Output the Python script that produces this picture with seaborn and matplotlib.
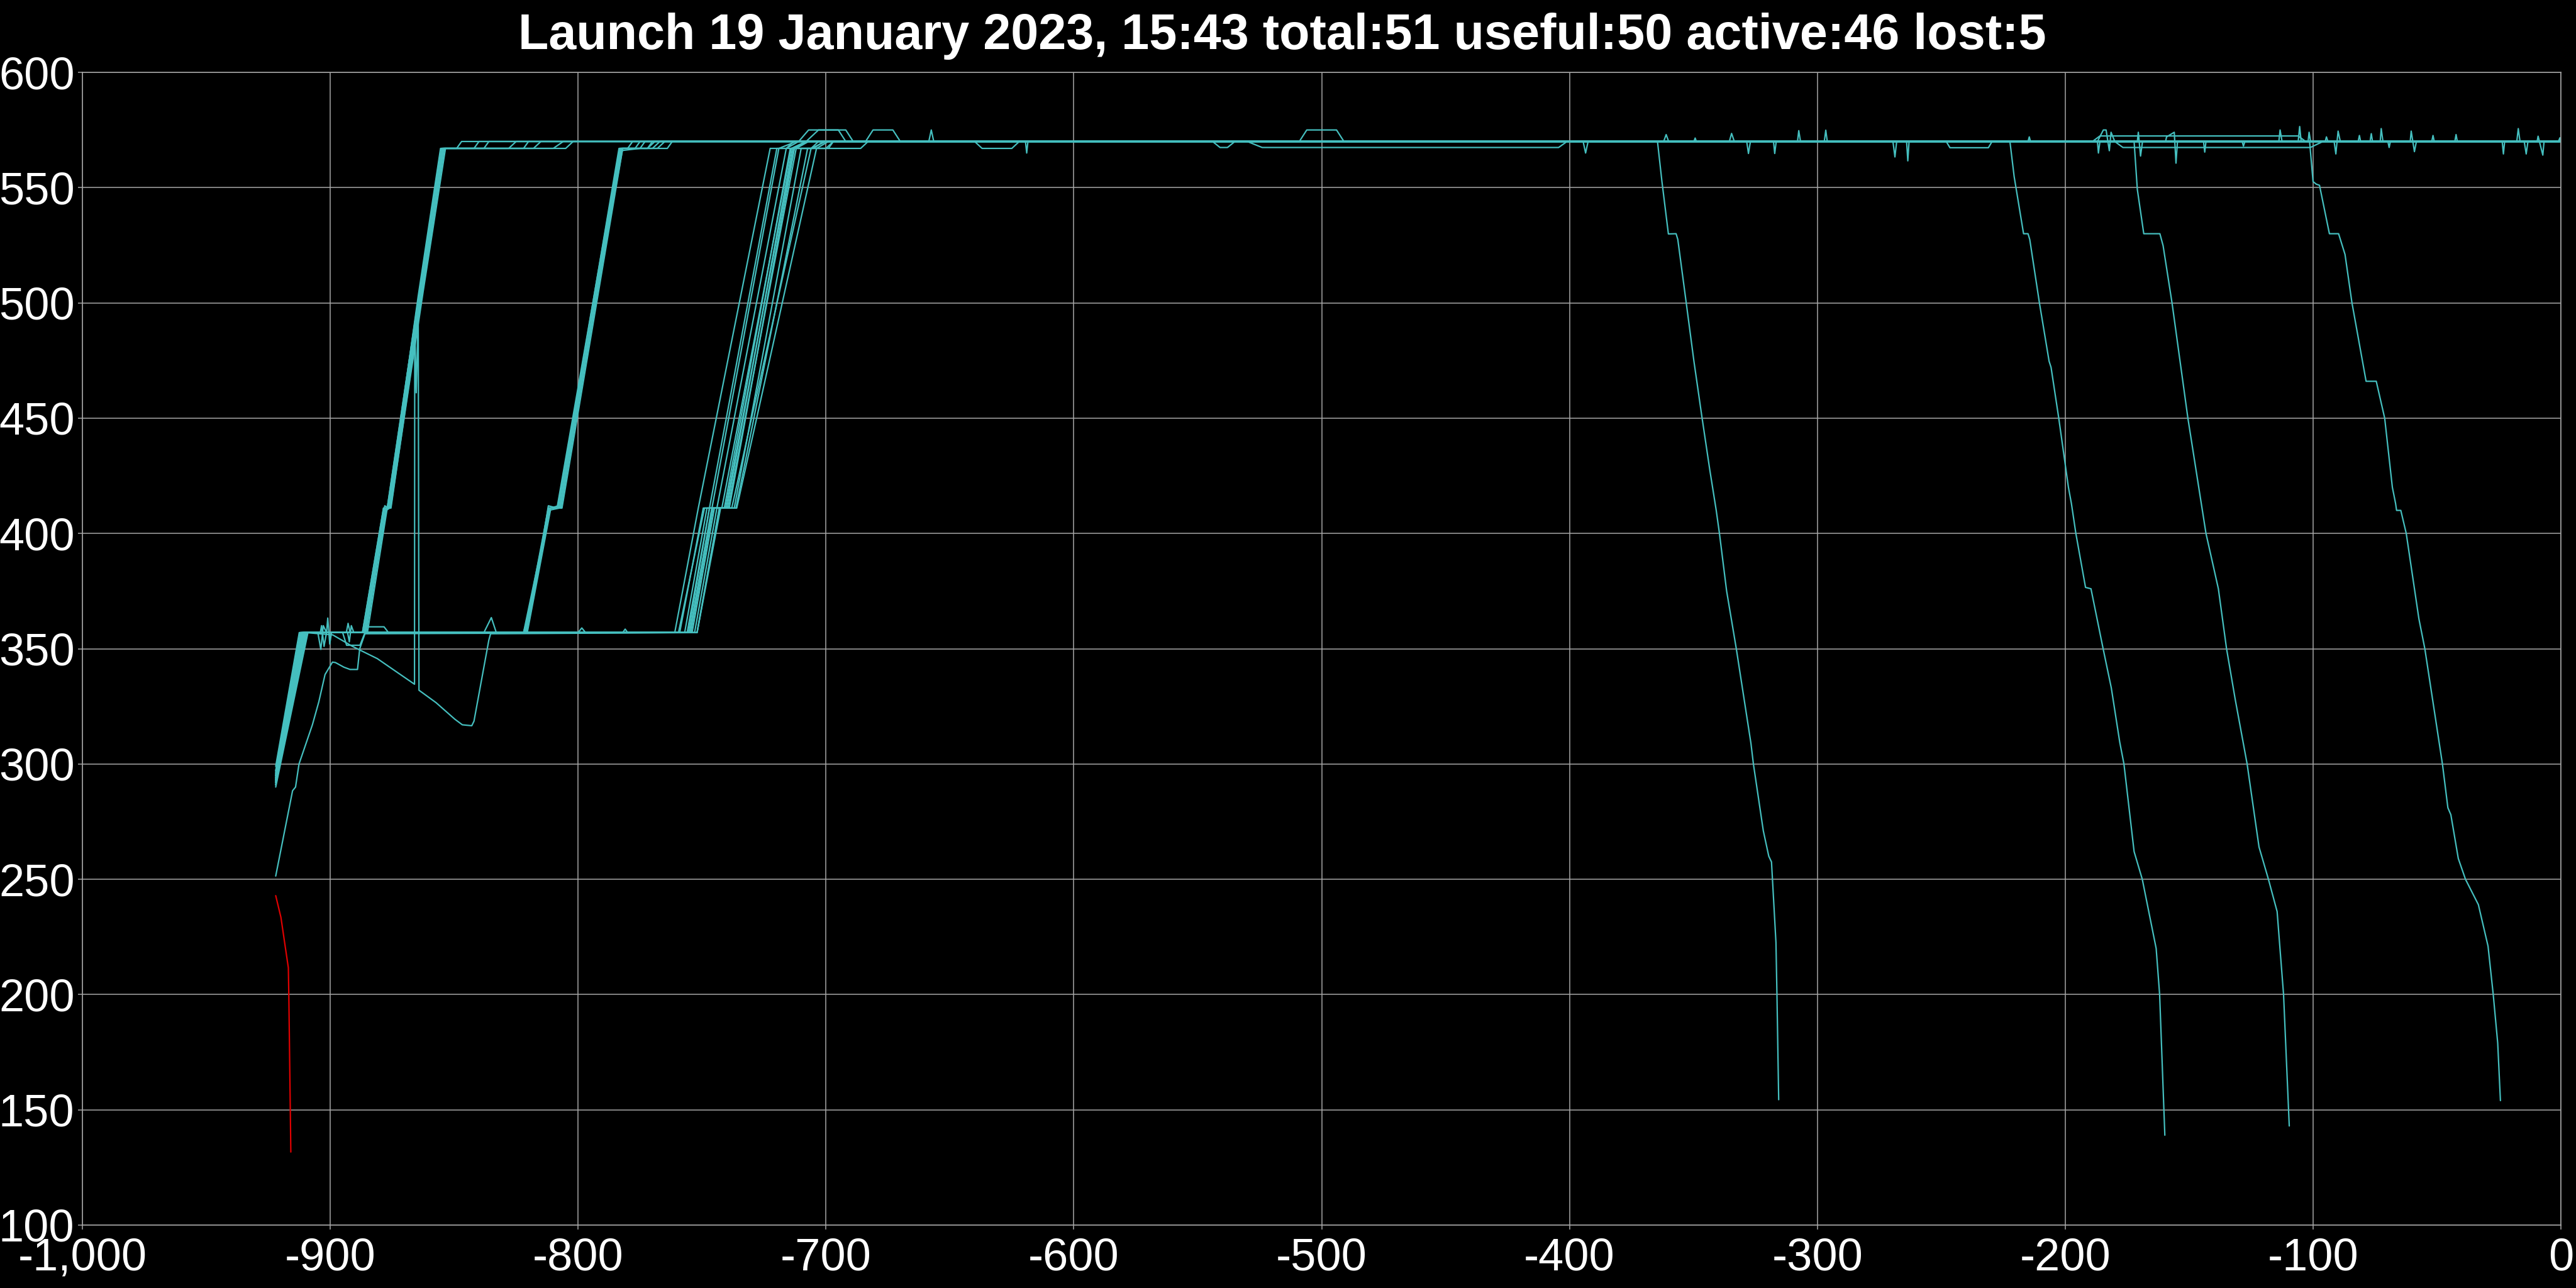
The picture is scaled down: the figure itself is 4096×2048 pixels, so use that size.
import numpy as np
import matplotlib
matplotlib.use('Agg')
import matplotlib.pyplot as plt
from matplotlib.ticker import FuncFormatter
import seaborn as sns
import pandas as pd

title = 'Launch 19 January 2023, 15:43 total:51 useful:50 active:46 lost:5'
x_ticks = list(range(-1000, 1, 100))
y_ticks = list(range(100, 601, 50))

# first raise group
grp_a = [
    [(-922, 293), (-910, 357), (-887, 357), (-878.5, 411), (-877, 411), (-864, 505), (-855, 567), (-849, 567), (-847, 570), (0, 570)],
    [(-922, 295), (-911, 357), (-905, 357), (-903.8, 349.7), (-902.8, 360), (-901.5, 357), (-901, 363.3), (-900.2, 352), (-899.5, 357),
     (-886.5, 357), (-878, 411), (-876.5, 411), (-863.5, 505), (-854.5, 567), (-838, 567), (-836, 570), (0, 570)],
    [(-922, 291), (-909.5, 357), (-886, 357), (-877.5, 410), (-876, 411), (-863, 506), (-854, 567), (-828, 567), (-825, 570), (0, 570)],
    [(-922, 297), (-912, 357), (-904, 357), (-903.5, 360), (-902.5, 351), (-901.5, 357), (-893.5, 357), (-892.8, 361), (-892, 357),
     (-886, 357), (-878, 412), (-876.5, 411), (-864.5, 503), (-855.5, 567), (-818, 567), (-815, 570), (0, 570)],
    [(-922, 293), (-910, 357), (-885.5, 357), (-877.5, 411), (-875.5, 411), (-863, 504), (-854, 567), (-810, 567), (-806, 570), (0, 570)],
    [(-922, 290), (-909, 357), (-885, 357), (-877, 411), (-875.5, 412), (-862.5, 505), (-853.5, 567), (-842, 567), (-840, 570), (0, 570)],
    [(-922, 299), (-912.5, 357), (-887, 357), (-878.5, 411), (-877, 411), (-864, 505), (-855, 567), (-805, 567), (-802, 570), (0, 570)],
]

# second raise group
grp_b = [
    [(-922, 293), (-910, 357), (-822, 357), (-819, 369), (-812, 411), (-808, 411), (-783.5, 567), (-777, 567), (-775, 570),
     (-544, 570), (-541, 567.4), (-538, 567.4), (-535, 570), (0, 570)],
    [(-922, 295), (-911, 357), (-821.5, 357), (-812, 411), (-807.5, 411), (-783, 567), (-772, 567), (-770, 570),
     (-530, 570), (-524, 567.4), (-404.4, 567.4), (-401, 570), (0, 570)],
    [(-922, 291), (-909.5, 357), (-895, 357), (-893.4, 351.5), (-888, 351.5), (-886, 357), (-821, 357), (-811.5, 411), (-807, 411),
     (-782.5, 567), (-768, 567), (-765, 570), (-509, 570), (-506, 575), (-494, 575), (-491, 570), (0, 570)],
    [(-922, 296), (-911.5, 357), (-887, 357), (-885.5, 359.5), (-878.3, 359.5), (-876.5, 357), (-820.5, 357), (-811, 411), (-808, 412),
     (-782, 567), (-780, 567), (-778, 570), (0, 570)],
    [(-922, 292), (-910, 357), (-893, 357), (-892.3, 353), (-891.5, 360), (-890.5, 357), (-821, 357), (-812, 410), (-807.5, 411),
     (-783, 566), (-775, 567), (-773, 570), (0, 570)],
    [(-922, 294), (-910.5, 357), (-822, 357), (-811.5, 411), (-806.5, 411), (-782, 567), (-770, 567), (-767, 570), (0, 570)],
    [(-922, 293), (-910, 357), (-821.5, 357), (-818, 372), (-812, 412), (-808.5, 411), (-783.2, 567), (-764, 567), (-762, 570), (0, 570)],
]

# third raise group
grp_c = [
    [(-922, 293), (-910, 357), (-761, 357), (-751.5, 411), (-722.5, 567), (-716, 567), (-713, 570), (-658.5, 570), (-657.5, 575),
     (-656.5, 570), (-394.5, 570), (-393.5, 565), (-392.5, 570), (-335.5, 570), (-334.6, 573.5), (-333.5, 570), (-187, 570),
     (-184.6, 575), (-183.5, 575), (-182.2, 566), (-181.5, 574), (-180, 570), (-113.8, 570), (-113.3, 575), (-112.5, 570),
     (-60.8, 570), (-60.4, 574.5), (-59.1, 565.6), (-58.3, 570), (0, 570)],
    [(-922, 295), (-911, 357), (-759, 357), (-749.5, 411), (-747, 411), (-719.8, 567), (-706, 567), (-703, 570), (-328.5, 570),
     (-327.8, 564.8), (-327, 570), (-308, 570), (-307.5, 574.7), (-306.8, 570), (-189, 570), (-186, 572.4), (-106, 572.4),
     (-103, 570), (-17.8, 570), (-17.2, 575.6), (-16.5, 570), (0, 570)],
    [(-922, 291), (-909.5, 357), (-838, 357), (-835, 363.5), (-833, 357), (-757, 357), (-748, 411), (-744, 411), (-716, 567),
     (-711, 570), (-707, 575), (-692, 575), (-689, 570), (0, 570)],
    [(-922, 296), (-911.5, 357), (-800, 357), (-798.5, 359), (-797, 357), (-755.5, 357), (-747, 411), (-741, 411), (-714.4, 567),
     (-700, 567), (-697, 570), (-362, 570), (-361, 573), (-360, 570), (-269.5, 570), (-268.7, 563.3), (-268, 570), (-180, 570),
     (-176.7, 567.4), (-101.1, 567.4), (-96, 570), (-91.5, 570), (-90.8, 564.6), (-89.9, 574.5), (-89, 570), (-14.8, 570),
     (-14, 564.6), (-13.3, 570), (0, 570)],
    [(-922, 292), (-910, 357), (-755, 357), (-746, 411), (-740, 411), (-713.5, 567), (-708, 570), (-684, 570), (-681, 575),
     (-673, 575), (-670, 570), (0, 570)],
    [(-922, 294), (-910.5, 357), (-754, 357), (-745, 411), (-739, 411), (-712.7, 567), (-708, 570), (-703, 575), (-695, 575),
     (-692, 570), (-619.5, 570), (-619, 565), (-618.5, 570), (-349.8, 570), (-349.3, 571.5), (-348.8, 570), (-297.2, 570),
     (-296.6, 574.9), (-296, 570), (-248, 570), (-246.5, 567.3), (-231, 567.3), (-229.5, 570), (-215, 570), (-214.5, 572),
     (-214, 570), (-170.9, 570), (-170.5, 574), (-169.6, 563.7), (-168.8, 570), (-72.9, 570), (-72.5, 575.6), (-71.8, 570),
     (-23.7, 570), (-23.2, 564.6), (-22.7, 570), (0, 570)],
    [(-922, 293), (-910, 357), (-782, 357), (-781, 358.5), (-780, 357), (-753, 357), (-744, 411), (-737, 411), (-710, 567),
     (-699, 567), (-697, 570), (-317.7, 570), (-317.2, 564.8), (-316.6, 570), (-264, 570), (-263.5, 561.6), (-263, 570),
     (-159.5, 570), (-159.1, 572), (-156, 574), (-155.3, 560.6), (-154.7, 570), (-144.2, 570), (-143.7, 565.4), (-143.2, 570),
     (-106, 570), (-105.4, 576.5), (-104.8, 570), (-81.8, 570), (-81.3, 572.6), (-80.8, 570), (-42.8, 570), (-42.3, 573),
     (-41.8, 570), (-9.6, 570), (-9.2, 572.3), (-7.3, 564.1), (-6.8, 570), (0, 570)],
    [(-922, 295), (-911, 357), (-752, 357), (-743, 411), (-736.3, 411), (-707.4, 567), (-686, 567), (-683, 570), (0, 570)],
    [(-922, 292), (-910, 357), (-752, 357), (-742.5, 411), (-736, 411), (-703.8, 567), (-699, 570), (-640, 570), (-637, 567),
     (-625, 567), (-622, 570), (-187, 570), (-186.6, 565), (-186, 570), (-128.6, 570), (-128.1, 568), (-127.5, 570), (-102, 570),
     (-101.6, 574), (-101, 570), (-95.1, 570), (-94.6, 572), (-94, 570), (-77, 570), (-76.5, 573.4), (-76, 570), (-69.8, 570),
     (-69.3, 567.4), (-68.8, 570), (-52.1, 570), (-51.6, 572.6), (-51.1, 570), (-1, 570), (-0.4, 571.6), (0, 570)],
    [(-922, 297), (-912, 357), (-755, 357), (-746, 411), (-740.5, 411), (-713, 567), (-705, 567), (-701, 570), (0, 570)],
]

# slow starters
grp_slow = [
    [(-922, 251.4), (-915.2, 288.4), (-914, 290), (-912.6, 300), (-907.2, 317), (-904.6, 327), (-902.1, 338.8), (-899.1, 344.2),
     (-897.9, 344), (-894.5, 342), (-892, 341), (-889, 341), (-888.1, 350), (-886, 356.5), (-759.5, 357), (-749, 411),
     (-746, 411), (-719, 567), (-712, 570), (0, 570)],
    [(-922, 292), (-910, 357), (-899, 356), (-891, 351), (-881, 345.7), (-872.5, 339.4), (-866, 334.6), (-865.9, 491),
     (-865.3, 461), (-864.5, 495), (-864.2, 332), (-857.3, 326.6), (-849.7, 319.4), (-846.7, 317), (-842.9, 316.6),
     (-842, 318.6), (-836, 353.8), (-835.3, 356.5), (-752, 357), (-743, 411), (-738, 411), (-706, 567), (-700, 570), (0, 570)],
]

# re-entering satellites
grp_decay = [
    [(-922, 294), (-910.5, 357), (-886, 357), (-877.5, 411), (-876, 411), (-863.5, 505), (-854.5, 567), (-822, 567), (-820, 570),
     (-364.5, 570), (-362.7, 552.6), (-360.1, 529.9), (-357, 530), (-356.3, 527.5), (-352.9, 500), (-349.8, 474.7),
     (-346.5, 450), (-343.4, 427.6), (-340.8, 410), (-339.5, 400), (-336.6, 375), (-332.7, 350), (-326.8, 309), (-325.8, 300),
     (-321.8, 271), (-319.6, 260), (-318.5, 257.5), (-316.7, 222.6), (-316.3, 200), (-315.6, 154.4)],
    [(-922, 294), (-910.5, 357), (-821, 357), (-811.5, 411), (-807, 411), (-782.5, 567), (-772, 567), (-769, 570),
     (-222.3, 570), (-220.6, 554.8), (-216.8, 530), (-215, 530), (-214.3, 527.5), (-210.4, 500), (-206.5, 474.7),
     (-205.7, 472), (-202.6, 450), (-198.7, 420), (-197.5, 413), (-195.7, 400), (-191.8, 376.6), (-189.6, 376), (-184.7, 350),
     (-181.4, 333), (-178, 309.5), (-176.3, 300), (-172.2, 262), (-168.9, 250), (-163.3, 220), (-161.9, 200), (-159.8, 139)],
    [(-922, 293), (-910, 357), (-756, 357), (-747, 411), (-742, 411), (-714, 567), (-708, 570), (-172.2, 570), (-170.9, 549.2),
     (-168.3, 530), (-161.8, 530), (-160.5, 524.8), (-156.9, 500), (-150.5, 450), (-143.2, 400), (-138.2, 376), (-134.9, 350),
     (-131.4, 328), (-126.6, 300), (-121.8, 264), (-118, 250), (-114.5, 236), (-111.9, 200), (-109.6, 143)],
    [(-922, 292), (-910, 357), (-754.5, 357), (-745.5, 411), (-739.5, 411), (-712, 567), (-707, 570), (-101.4, 570),
     (-100, 552.6), (-98.7, 551.5), (-97.4, 551), (-93.4, 530), (-89.7, 530), (-87.1, 521), (-84.3, 500), (-78.6, 466),
     (-74.5, 466), (-71.1, 450), (-68, 420), (-66.7, 413), (-66.3, 410), (-64.6, 410), (-62.4, 400), (-57.3, 363), (-54.9, 350),
     (-47.8, 300), (-45.6, 281), (-44.4, 278), (-41.4, 259), (-38.5, 250), (-33.3, 239), (-29.4, 221), (-27.3, 200),
     (-25.5, 179), (-24.4, 154)],
]

# lost right after deployment
lost_red = [(-922, 242.9), (-919.9, 233.5), (-916.9, 211.6), (-916.7, 199), (-915.9, 131.7)]

teal = '#45bfbf'
red = '#e00000'

# long table for seaborn
rows = []
palette = {}
n = 0
for grp in [grp_a, grp_b, grp_c, grp_slow, grp_decay]:
    for pts in grp:
        name = 'sat%02d' % n
        palette[name] = teal
        for x, y in pts:
            rows.append((name, x, y))
        n += 1
palette['lost'] = red
for x, y in lost_red:
    rows.append(('lost', x, y))
df = pd.DataFrame(rows, columns=['sat', 't', 'alt'])

sns.set_style('darkgrid', {
    'axes.facecolor': 'black',
    'figure.facecolor': 'black',
    'grid.color': '#a8a8a8',
    'axes.edgecolor': '#a8a8a8',
})
plt.rcParams['font.family'] = ['Liberation Sans', 'DejaVu Sans']
plt.rcParams['axes.unicode_minus'] = False

fig = plt.figure(figsize=(40.96, 20.48), dpi=100)
ax = fig.add_axes([131 / 4096, 100 / 2048, (4072 - 131) / 4096, (1948 - 115) / 2048])

sns.lineplot(data=df, x='t', y='alt', hue='sat', palette=palette, estimator=None,
             sort=False, legend=False, linewidth=1.6, ax=ax)

ax.set_xlim(-1000, 0)
ax.set_ylim(100, 600)
ax.set_xticks(x_ticks)
ax.set_yticks(y_ticks)
ax.xaxis.set_major_formatter(FuncFormatter(lambda v, p: f'{v:,.0f}'))
ax.grid(True, color='#a8a8a8', linewidth=1.1)
ax.set_axisbelow(True)
for s in ax.spines.values():
    s.set_color('#a8a8a8')
    s.set_linewidth(1.1)
ax.tick_params(axis='both', colors='#a8a8a8', labelcolor='white', labelsize=52,
               length=5, width=1.1, bottom=True, left=True)
ax.tick_params(axis='x', pad=9)
ax.tick_params(axis='y', pad=4)
ax.set_xlabel('')
ax.set_ylabel('')

fig.text(0.4978, 1 - 78 / 2048, title, ha='center', va='baseline', color='white',
         fontsize=57, fontweight='bold')

fig.savefig('out.png', dpi=100, facecolor='black')
